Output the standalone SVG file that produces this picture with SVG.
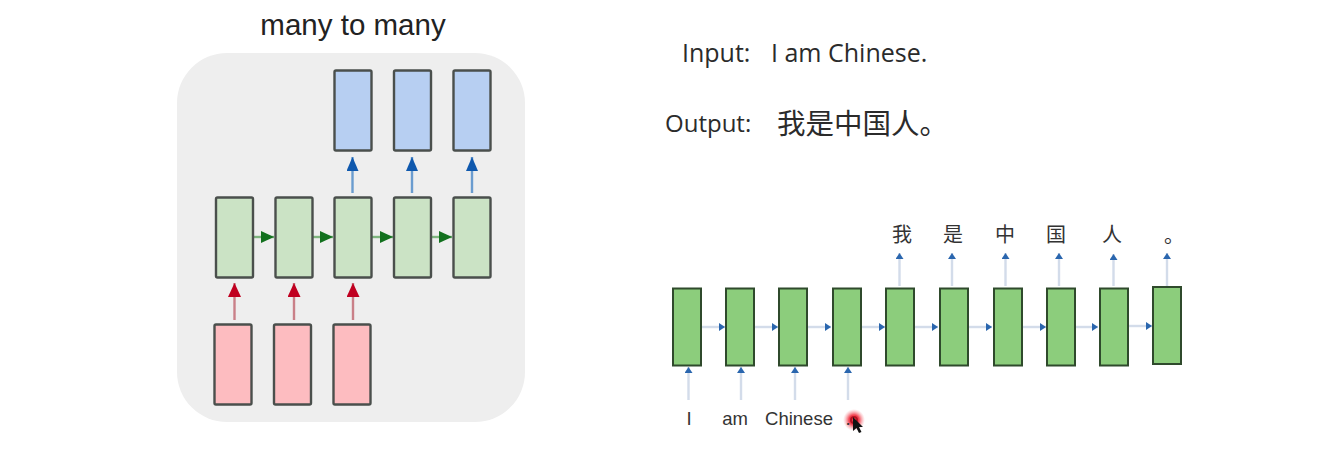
<svg xmlns="http://www.w3.org/2000/svg" width="1329" height="470" viewBox="0 0 1329 470">
<style>
.n{stroke:#4a4f4c;stroke-width:2.4}
.b{fill:#b7cff2}.g{fill:#cbe3c5}.r{fill:#fdbcc0}
.d{fill:#8ccd7c;stroke:#2f4a2c;stroke-width:2}
.cb{stroke:#6a9ccf;stroke-width:2.4;fill:none;marker-end:url(#mb)}
.cg{stroke:#7fb57f;stroke-width:2.4;fill:none;marker-end:url(#mg)}
.cr{stroke:#c98088;stroke-width:2.4;fill:none;marker-end:url(#mr)}
.cl{stroke:#d3dcea;stroke-width:2.4;fill:none;marker-end:url(#ml)}
.t{font-family:"Open Sans","Noto Sans CJK SC",sans-serif;fill:#2b2b2b}
.l{font-family:"Liberation Sans","Noto Sans CJK SC",sans-serif;fill:#333;font-size:18.500px;text-anchor:middle}
.z{font-family:"Noto Sans CJK SC",sans-serif;fill:#333;font-size:20px;text-anchor:middle}
</style>
<defs>
<marker id="mb" markerUnits="userSpaceOnUse" markerWidth="14" markerHeight="12" refX="14" refY="6" orient="auto"><path d="M0 0L14 6L0 12Z" fill="#0f58ad"/></marker>
<marker id="mg" markerUnits="userSpaceOnUse" markerWidth="14" markerHeight="12" refX="13" refY="6" orient="auto"><path d="M0 0L13 6L0 12Z" fill="#12701e"/></marker>
<marker id="mr" markerUnits="userSpaceOnUse" markerWidth="14" markerHeight="14" refX="14" refY="6.500" orient="auto"><path d="M0 0L14 6.500L0 13Z" fill="#c00020"/></marker>
<marker id="ml" markerUnits="userSpaceOnUse" markerWidth="7" markerHeight="8" refX="6" refY="4" orient="auto"><path d="M0 0L6 4L0 8Z" fill="#2a66ae"/></marker>
<radialGradient id="glow"><stop offset="0.45" stop-color="#f2404e"/><stop offset="1" stop-color="#f7a0a6" stop-opacity="0"/></radialGradient>
</defs>
<rect width="1329" height="470" fill="#fff"/>
<rect id="panel" x="177" y="53" width="348" height="369" rx="50" fill="#eeeeee"/>
<text id="title" x="353" y="35" font-family="Liberation Sans,sans-serif" font-size="29.500" text-anchor="middle" fill="#222">many to many</text>
<g id="connectors">
<path class="cb" d="M352.500 193V157"/><path class="cb" d="M412 193V157"/><path class="cb" d="M472 193V157"/>
<path class="cg" d="M253 237H274"/><path class="cg" d="M313 237H333"/><path class="cg" d="M372 237H393"/><path class="cg" d="M431 237H452"/>
<path class="cr" d="M234.500 320V283"/><path class="cr" d="M294 320V283"/><path class="cr" d="M353 320V283"/>
<path class="cl" d="M702 327H725"/><path class="cl" d="M755 327H778"/><path class="cl" d="M808 327H831"/><path class="cl" d="M862 327H885"/><path class="cl" d="M915 327H938"/><path class="cl" d="M969 327H992"/><path class="cl" d="M1023 327H1046"/><path class="cl" d="M1076 327H1098"/><path class="cl" d="M1129 326H1152"/>
<path class="cl" d="M688.500 400V367"/><path class="cl" d="M741 400V367"/><path class="cl" d="M795 400V367"/><path class="cl" d="M848 400V367"/>
<path class="cl" d="M899.500 286V253"/><path class="cl" d="M952 286V253"/><path class="cl" d="M1005.500 286V253"/><path class="cl" d="M1059 286V253"/><path class="cl" d="M1113.500 286V254"/><path class="cl" d="M1167 286V253"/>
</g>
<g id="blue1"><rect class="n b" x="334.500" y="70.500" width="37" height="80" rx="1.500"/></g>
<g id="blue2"><rect class="n b" x="394" y="70.500" width="37" height="80" rx="1.500"/></g>
<g id="blue3"><rect class="n b" x="453.500" y="70.500" width="37" height="80" rx="1.500"/></g>
<g id="green1"><rect class="n g" x="216" y="197.500" width="37" height="80" rx="1.500"/></g>
<g id="green2"><rect class="n g" x="275.500" y="197.500" width="37" height="80" rx="1.500"/></g>
<g id="green3"><rect class="n g" x="334.500" y="197.500" width="37" height="80" rx="1.500"/></g>
<g id="green4"><rect class="n g" x="394" y="197.500" width="37" height="80" rx="1.500"/></g>
<g id="green5"><rect class="n g" x="453.500" y="197.500" width="37" height="80" rx="1.500"/></g>
<g id="red1"><rect class="n r" x="214.500" y="324.500" width="37" height="80" rx="1.500"/></g>
<g id="red2"><rect class="n r" x="274" y="324.500" width="37" height="80" rx="1.500"/></g>
<g id="red3"><rect class="n r" x="333.500" y="324.500" width="37" height="80" rx="1.500"/></g>
<text id="input" class="t" x="682" y="62" font-size="25">Input:</text>
<text id="input-text" class="t" x="771" y="62" font-size="25">I am Chinese.</text>
<text id="output" class="t" x="665" y="132" font-size="24">Output:</text>
<text id="output-text" class="t" x="777" y="134" font-size="28.500">我是中国人。</text>
<g id="s1"><rect class="d" x="673" y="288.500" width="28" height="77"/></g>
<g id="s2"><rect class="d" x="726" y="288.500" width="28" height="77"/></g>
<g id="s3"><rect class="d" x="779" y="288.500" width="28" height="77"/></g>
<g id="s4"><rect class="d" x="833" y="288.500" width="28" height="77"/></g>
<g id="s5"><rect class="d" x="886" y="288.500" width="28" height="77"/></g>
<g id="s6"><rect class="d" x="940" y="288.500" width="28" height="77"/></g>
<g id="s7"><rect class="d" x="994" y="288.500" width="28" height="77"/></g>
<g id="s8"><rect class="d" x="1047" y="288.500" width="28" height="77"/></g>
<g id="s9"><rect class="d" x="1100" y="288.500" width="28" height="77"/></g>
<g id="s10"><rect class="d" x="1153" y="287" width="28" height="77"/></g>
<text class="l" x="689" y="425">I</text>
<text class="l" x="735" y="425">am</text>
<text class="l" x="799" y="425">Chinese</text>
<circle cx="854" cy="420" r="11" fill="url(#glow)"/>
<circle cx="854" cy="420" r="3" fill="none" stroke="#b01020" stroke-width="2"/>
<text class="l" x="848" y="425">.</text>
<path id="cursor" d="M853 417L853 431L856.500 428L859 433L861.500 432L859 427L863 427Z" fill="#111"/>
<text class="z" x="902" y="242">我</text>
<text class="z" x="953" y="242">是</text>
<text class="z" x="1005" y="242">中</text>
<text class="z" x="1056" y="242">国</text>
<text class="z" x="1112" y="242">人</text>
<text class="z" x="1174" y="243" font-size="16">。</text>
</svg>
